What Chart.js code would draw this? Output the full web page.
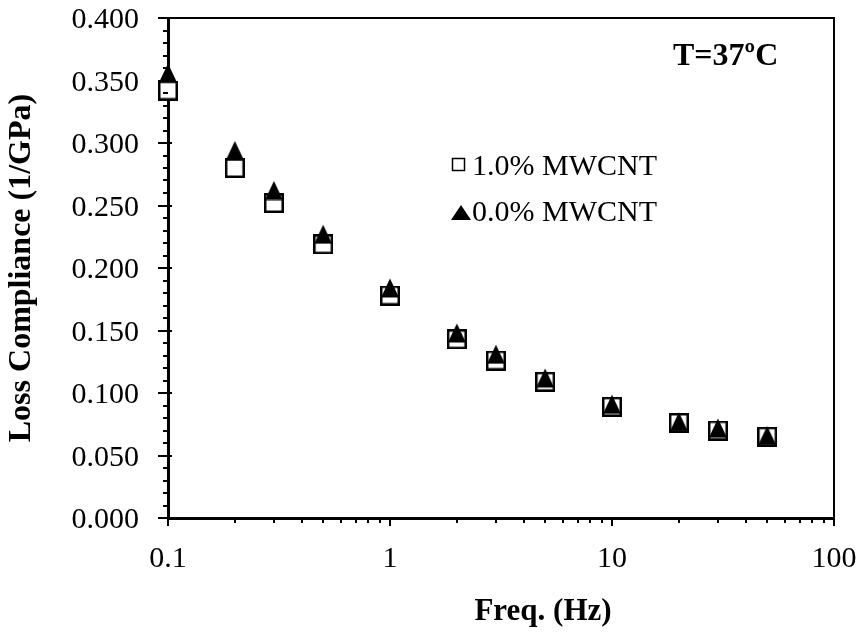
<!DOCTYPE html>
<html lang="en">
<head>
    <meta charset="UTF-8">
    <title>Loss Compliance vs Frequency</title>
    <script src="https://cdn.jsdelivr.net/npm/chart.js"></script>
    <style>
        html, body { margin: 0; padding: 0; background: #fff; }
        #wrap { width: 861px; height: 634px; position: relative; }
    </style>
</head>
<body>
<div id="wrap"><canvas id="lossChart" width="861" height="634"></canvas></div>

<script>
// data
const freq = [0.1, 0.2, 0.3, 0.5, 1, 2, 3, 5, 10, 20, 30, 50];
const mwcnt10 = [0.342, 0.280, 0.252, 0.219, 0.178, 0.143, 0.126, 0.109, 0.089, 0.076, 0.070, 0.065];
const mwcnt00 = [0.356, 0.294, 0.262, 0.227, 0.184, 0.148, 0.131, 0.112, 0.091, 0.077, 0.072, 0.066];
const xTicks = [0.1, 1, 10, 100];
const xTickLabels = ['0.1', '1', '10', '100'];
const yTicks = [0, 0.05, 0.1, 0.15, 0.2, 0.25, 0.3, 0.35, 0.4];
const yTickLabels = ['0.000', '0.050', '0.100', '0.150', '0.200', '0.250', '0.300', '0.350', '0.400'];
const seriesNames = ['1.0% MWCNT', '0.0% MWCNT'];

const serif = "'Liberation Serif', 'Times New Roman', serif";

// marker images so that the symbol box is centred on the value
function squareMarker() {
    const c = document.createElement('canvas');
    c.width = 20; c.height = 20;
    const g = c.getContext('2d');
    g.fillStyle = '#fff';
    g.fillRect(1, 1, 18, 18);
    g.strokeStyle = '#000';
    g.lineWidth = 2.5;
    g.strokeRect(1.25, 1.25, 17.5, 17.5);
    return c;
}
function triangleMarker() {
    const c = document.createElement('canvas');
    c.width = 20; c.height = 20;
    const g = c.getContext('2d');
    g.fillStyle = '#000';
    g.beginPath();
    g.moveTo(10, 0.5);
    g.lineTo(19, 19.5);
    g.lineTo(1, 19.5);
    g.closePath();
    g.fill();
    return c;
}

// frame, ticks, tick labels, axis titles, legend and note
const decorations = {
    id: 'decorations',
    afterDraw(chart) {
        const ctx = chart.ctx;
        const a = chart.chartArea;
        const xs = chart.scales.x, ys = chart.scales.y;
        ctx.save();
        ctx.strokeStyle = '#000';

        // top / right frame
        ctx.lineWidth = 2;
        ctx.beginPath();
        ctx.moveTo(a.left, a.top);
        ctx.lineTo(a.right, a.top);
        ctx.lineTo(a.right, a.bottom);
        ctx.stroke();

        // y ticks (minor every 0.01)
        for (let i = 0; i <= 40; i++) {
            const py = Math.round(ys.getPixelForValue(i / 100));
            const major = i % 5 === 0;
            ctx.beginPath();
            ctx.moveTo(a.left - (major ? 10 : 5), py);
            ctx.lineTo(a.left + (major ? 4 : 0), py);
            ctx.stroke();
        }
        // x ticks (minor at 2..9 of each decade)
        for (let d = 0.1; d < 99; d *= 10) {
            for (let m = 1; m <= 10; m++) {
                const px = Math.round(xs.getPixelForValue(d * m));
                const major = (m === 1 || m === 10);
                ctx.beginPath();
                ctx.moveTo(px, a.bottom);
                ctx.lineTo(px, a.bottom + (major ? 8 : 5));
                ctx.stroke();
            }
        }

        ctx.fillStyle = '#000';
        // tick labels
        ctx.font = '30px ' + serif;
        ctx.textBaseline = 'alphabetic';
        ctx.textAlign = 'right';
        yTicks.forEach((v, i) => {
            ctx.fillText(yTickLabels[i], a.left - 29, ys.getPixelForValue(v) + 10);
        });
        ctx.textAlign = 'center';
        xTicks.forEach((v, i) => {
            ctx.fillText(xTickLabels[i], xs.getPixelForValue(v), 567);
        });

        // axis titles
        ctx.font = 'bold 31px ' + serif;
        ctx.fillText('Freq. (Hz)', 543, 620);
        ctx.save();
        ctx.translate(30, 268);
        ctx.rotate(-Math.PI / 2);
        ctx.font = 'bold 32px ' + serif;
        ctx.fillText('Loss Compliance (1/GPa)', 0, 0);
        ctx.restore();

        // note
        ctx.textAlign = 'left';
        ctx.font = 'bold 32px ' + serif;
        ctx.fillText('T=37\u00BAC', 673, 65);

        // legend
        ctx.font = '30px ' + serif;
        ctx.lineWidth = 1.5;
        ctx.strokeRect(452.5, 158.5, 12, 12);
        ctx.fillText(seriesNames[0], 472, 175);
        ctx.beginPath();
        ctx.moveTo(461, 205);
        ctx.lineTo(471, 220);
        ctx.lineTo(451, 220);
        ctx.closePath();
        ctx.fill();
        ctx.fillText(seriesNames[1], 472, 221);
        ctx.restore();
    }
};

const ctx = document.getElementById('lossChart').getContext('2d');
new Chart(ctx, {
    type: 'scatter',
    data: {
        datasets: [{
            label: seriesNames[0],
            data: freq.map((f, i) => ({ x: f, y: mwcnt10[i] })),
            pointStyle: squareMarker(),
            pointRadius: 10,
            order: 1,
            clip: false
        }, {
            label: seriesNames[1],
            data: freq.map((f, i) => ({ x: f, y: mwcnt00[i] })),
            pointStyle: triangleMarker(),
            pointRadius: 10,
            order: 0,
            clip: false
        }]
    },
    options: {
        responsive: false,
        animation: false,
        layout: { padding: { top: 18, right: 27, left: 0, bottom: 0 } },
        plugins: {
            legend: { display: false },
            tooltip: { enabled: false }
        },
        scales: {
            x: {
                type: 'logarithmic',
                min: 0.1,
                max: 100,
                afterFit: s => { s.height = 116; },
                grid: { display: false, drawTicks: false },
                border: { display: true, color: '#000', width: 3 },
                ticks: { display: false }
            },
            y: {
                min: 0,
                max: 0.4,
                afterFit: s => { s.width = 168; },
                grid: { display: false, drawTicks: false },
                border: { display: true, color: '#000', width: 3 },
                ticks: { display: false }
            }
        }
    },
    plugins: [decorations]
});
</script>
</body>
</html>
